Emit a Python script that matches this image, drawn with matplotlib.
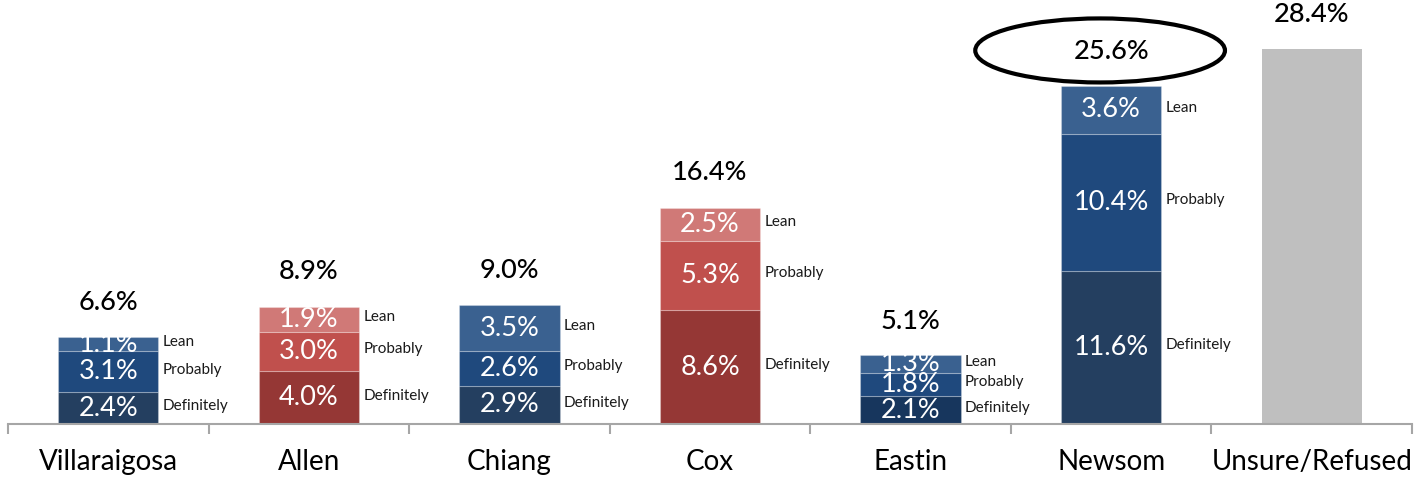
import matplotlib
matplotlib.use("Agg")
import matplotlib.pyplot as plt
from matplotlib.patches import Ellipse, Rectangle

plt.rcParams['font.family'] = ['Lato', 'DejaVu Sans']

candidates = ["Villaraigosa", "Allen", "Chiang", "Cox", "Eastin", "Newsom", "Unsure/Refused"]
definitely = [2.4, 4.0, 2.9, 8.6, 2.1, 11.6, 0]
probably = [3.1, 3.0, 2.6, 5.3, 1.8, 10.4, 0]
lean = [1.1, 1.9, 3.5, 2.5, 1.3, 3.6, 0]
totals = [6.6, 8.9, 9.0, 16.4, 5.1, 25.6, 28.4]
unsure = [0, 0, 0, 0, 0, 0, 28.4]
party = ["D", "R", "D", "R", "D", "D", None]

blue = {"def": "#243f60", "prob": "#1f497d", "lean": "#3a6190"}
red = {"def": "#953735", "prob": "#c0504d", "lean": "#d07977"}

fig = plt.figure(figsize=(14.23, 4.79), dpi=100)
ax = fig.add_axes([8 / 1423, 55 / 479, 1404 / 1423, 424 / 479])
px_per_unit = 13.2
ax.set_ylim(0, 424 / px_per_unit)
ax.set_xlim(-0.5, len(candidates) - 0.5)

w = 0.5
for i, name in enumerate(candidates):
    if party[i] is None:
        ax.bar(i, unsure[i], w, color="#bfbfbf")
        continue
    pal = blue if party[i] == "D" else red
    dcol = pal["def"]
    if name == "Eastin":
        dcol = "#17365d"
    segs = [(definitely[i], dcol, "Definitely"),
            (probably[i], pal["prob"], "Probably"),
            (lean[i], pal["lean"], "Lean")]
    bottom = 0
    stack = Rectangle((i - w / 2, 0), w, totals[i], transform=ax.transData)
    for val, col, tag in segs:
        ax.bar(i, val, w, bottom=bottom, color=col, edgecolor=(1, 1, 1, 0.25), linewidth=0.8)
        t = ax.text(i, bottom + val / 2, f"{val:.1f}%", ha="center", va="center",
                    color="white", fontsize=19.5)
        t.set_clip_path(stack)
        ax.annotate(tag, (i + w / 2, bottom + val / 2), xytext=(3, 1.5), textcoords="offset points",
                    ha="left", va="center", fontsize=11, color="#1a1a1a")
        bottom += val

for i, tot in enumerate(totals):
    ax.annotate(f"{tot:.1f}%", (i, tot), xytext=(0, 25), textcoords="offset points",
                ha="center", va="center", fontsize=19.5, color="black", fontweight="medium")

# highlight Newsom
ax.add_patch(Ellipse((4.945, 28.3), 1.245, 4.85, fill=False, edgecolor="black", linewidth=3, clip_on=False))

for s in ["top", "right", "left"]:
    ax.spines[s].set_visible(False)
ax.spines["bottom"].set_color("#a6a6a6")
ax.spines["bottom"].set_linewidth(1.5)
ax.set_yticks([])
ax.set_xticks(range(len(candidates)))
ax.set_xticklabels(candidates, fontsize=20)
ax.tick_params(axis="x", which="major", length=0, pad=18)
ax.set_xticks([k - 0.5 for k in range(len(candidates) + 1)], minor=True)
ax.tick_params(axis="x", which="minor", length=7, width=1.5, color="#a6a6a6")

fig.savefig("out.png", dpi=100)
